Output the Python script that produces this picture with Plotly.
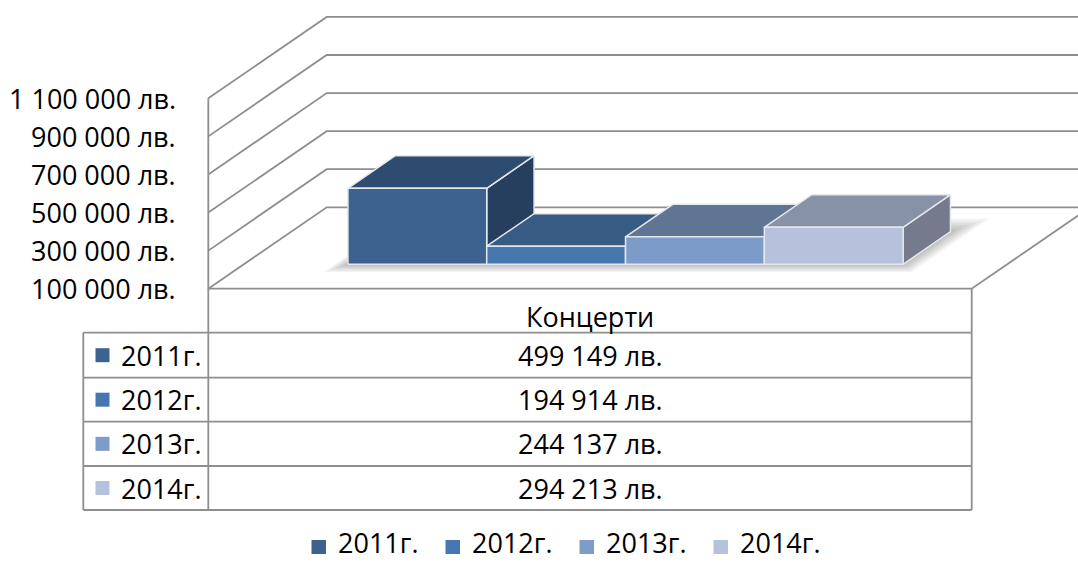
import plotly.graph_objects as go

# ---------------- data ----------------
category = "Концерти"
series_names = ["2011г.", "2012г.", "2013г.", "2014г."]
series_values = [499149, 194914, 244137, 294213]
tick_values = [100000, 300000, 500000, 700000, 900000, 1100000]
currency = "лв."

# ---------------- styles ----------------
front_colors = ["#3C6390", "#4677AF", "#7D9BC9", "#B6C2DC"]
top_colors = ["#2E4C70", "#385B84", "#607594", "#8892A6"]
side_colors = ["#273F5E", "#2F4E73", "#52647F", "#757A8C"]
legend_colors = ["#3C6390", "#4676B0", "#7F9BC8", "#B4C2DD"]
grid_color = "#8E8E8E"
edge_color = "#E4E8EE"
FONT = "Open Sans"
FSIZE = 27

# ---------------- layout geometry (pixels) ----------------
W, H = 1078, 563
FRONT_L, FRONT_R = 208.3, 971.7      # front floor edge, px
FLOOR_Y, TOP_Y = 288.7, 98.3          # px of axis min / axis max on front plane
DEPTH_DX, DEPTH_DY = 118.4, 81.4      # oblique depth offset, px
GAP_WIDTH, GAP_DEPTH = 150, 150       # Excel-style gap settings (%)

axis_min, axis_max = tick_values[0], tick_values[-1]
px_per_u = FRONT_R - FRONT_L
px_per_v = (FLOOR_Y - TOP_Y) / (axis_max - axis_min)


def u_of_px(px):
    return (px - FRONT_L) / px_per_u


def v_of_py(py):
    return axis_min + (FLOOR_Y - py) / px_per_v


du = DEPTH_DX / px_per_u
dv = DEPTH_DY / px_per_v


def P(u, v, z):
    return (u + z * du, v + z * dv)


def poly(points, fill, line_color, lw=1.5):
    xs = [p[0] for p in points] + [points[0][0]]
    ys = [p[1] for p in points] + [points[0][1]]
    return go.Scatter(x=xs, y=ys, mode="lines", fill="toself", fillcolor=fill,
                      line=dict(color=line_color, width=lw), hoverinfo="skip",
                      showlegend=False)


def polyline(points, color=grid_color, lw=1.8):
    return go.Scatter(x=[p[0] for p in points], y=[p[1] for p in points],
                      mode="lines", line=dict(color=color, width=lw),
                      hoverinfo="skip", showlegend=False)


fig = go.Figure()

# walls and gridlines
for t in tick_values:
    fig.add_trace(polyline([P(0, t, 0), P(0, t, 1), P(1.3, t, 1)]))
fig.add_trace(polyline([P(0, axis_max, 0), P(0, axis_min, 0), P(1, axis_min, 0), P(1, axis_min, 1)]))

# bar geometry
n = len(series_values)
bw = 1.0 / (n + GAP_WIDTH / 100.0)
u_start = bw * GAP_WIDTH / 200.0
bar_depth = 1.0 / (1 + GAP_DEPTH / 100.0)
z0 = (1 - bar_depth) / 2
z1 = z0 + bar_depth

# soft shadow under the bars
u_end = u_start + n * bw
for k in range(6, 0, -1):
    eu = k * 2.2 / px_per_u
    ez = k * 2.2 / DEPTH_DY
    pts = [P(u_start - eu, axis_min, z0 - ez * 0.6), P(u_end + eu * 1.5, axis_min, z0 - ez * 0.6),
           P(u_end + eu * 1.5, axis_min, z1 + ez), P(u_start - eu, axis_min, z1 + ez)]
    fig.add_trace(poly(pts, "rgba(0,0,0,0.045)", "rgba(0,0,0,0)", 0))

# bars (drawn left to right)
for i, val in enumerate(series_values):
    u0 = u_start + i * bw
    u1 = u0 + bw
    b = axis_min
    side = [P(u1, b, z0), P(u1, b, z1), P(u1, val, z1), P(u1, val, z0)]
    top = [P(u0, val, z0), P(u1, val, z0), P(u1, val, z1), P(u0, val, z1)]
    front = [P(u0, b, z0), P(u1, b, z0), P(u1, val, z0), P(u0, val, z0)]
    fig.add_trace(poly(side, side_colors[i], edge_color))
    fig.add_trace(poly(top, top_colors[i], edge_color))
    fig.add_trace(poly(front, front_colors[i], edge_color))


def fmt(v):
    return f"{v:,}".replace(",", " ") + " " + currency


annotations = []
shapes = []

# value axis labels (placed on the front wall edge through the y scale)
for t in tick_values:
    annotations.append(dict(x=178 / W, xref="paper", y=t, yref="y", text=fmt(t),
                            xanchor="right", yanchor="middle", showarrow=False,
                            font=dict(family=FONT, size=FSIZE, color="black")))

# ---------------- data table ----------------
TABLE_L = 83.3
row_lines = [332.7, 377.7, 421.7, 466.0, 510.0]


def px(x):
    return x / W


def py(y):
    return 1 - y / H


line_style = dict(color=grid_color, width=1.8)
shapes.append(dict(type="line", xref="paper", yref="paper", x0=px(FRONT_L), x1=px(FRONT_L),
                   y0=py(FLOOR_Y), y1=py(row_lines[-1]), line=line_style))
shapes.append(dict(type="line", xref="paper", yref="paper", x0=px(FRONT_R), x1=px(FRONT_R),
                   y0=py(FLOOR_Y), y1=py(row_lines[-1]), line=line_style))
shapes.append(dict(type="line", xref="paper", yref="paper", x0=px(TABLE_L), x1=px(TABLE_L),
                   y0=py(row_lines[0]), y1=py(row_lines[-1]), line=line_style))
for yl in row_lines:
    shapes.append(dict(type="line", xref="paper", yref="paper", x0=px(TABLE_L), x1=px(FRONT_R),
                       y0=py(yl), y1=py(yl), line=line_style))

col_center = (FRONT_L + FRONT_R) / 2
annotations.append(dict(x=px(col_center), y=py(316.0), xref="paper", yref="paper", text=category,
                        showarrow=False, xanchor="center", yanchor="middle",
                        font=dict(family=FONT, size=FSIZE, color="black")))
for i, (name, val) in enumerate(zip(series_names, series_values)):
    yc = (row_lines[i] + row_lines[i + 1]) / 2
    shapes.append(dict(type="rect", xref="paper", yref="paper", x0=px(95.5), x1=px(109.5),
                       y0=py(yc - 7), y1=py(yc + 7), fillcolor=legend_colors[i], line=dict(width=0)))
    annotations.append(dict(x=px(118.5), y=py(yc), xref="paper", yref="paper", text=name,
                            showarrow=False, xanchor="left", yanchor="middle",
                            font=dict(family=FONT, size=FSIZE, color="black")))
    annotations.append(dict(x=px(col_center), y=py(yc), xref="paper", yref="paper", text=fmt(val),
                            showarrow=False, xanchor="center", yanchor="middle",
                            font=dict(family=FONT, size=FSIZE, color="black")))

# ---------------- bottom legend ----------------
LEG_X0, LEG_STEP, LEG_SQ_Y = 311.5, 134.0, 547.0
for i, name in enumerate(series_names):
    x0 = LEG_X0 + i * LEG_STEP
    shapes.append(dict(type="rect", xref="paper", yref="paper", x0=px(x0), x1=px(x0 + 14.5),
                       y0=py(LEG_SQ_Y - 7), y1=py(LEG_SQ_Y + 7), fillcolor=legend_colors[i],
                       line=dict(width=0)))
    annotations.append(dict(x=px(x0 + 24), y=0, xref="paper", yref="paper", text=name,
                            showarrow=False, xanchor="left", yanchor="bottom",
                            font=dict(family=FONT, size=FSIZE, color="black")))

fig.update_layout(
    width=W, height=H,
    margin=dict(l=0, r=0, t=0, b=0),
    paper_bgcolor="white", plot_bgcolor="white",
    xaxis=dict(range=[u_of_px(0), u_of_px(W)], visible=False, fixedrange=True),
    yaxis=dict(range=[v_of_py(H), v_of_py(0)], visible=False, fixedrange=True),
    showlegend=False,
    annotations=annotations,
    shapes=shapes,
)

fig.write_html("out.html", config={"displayModeBar": False},
               post_script="document.body.style.margin='0px';")
